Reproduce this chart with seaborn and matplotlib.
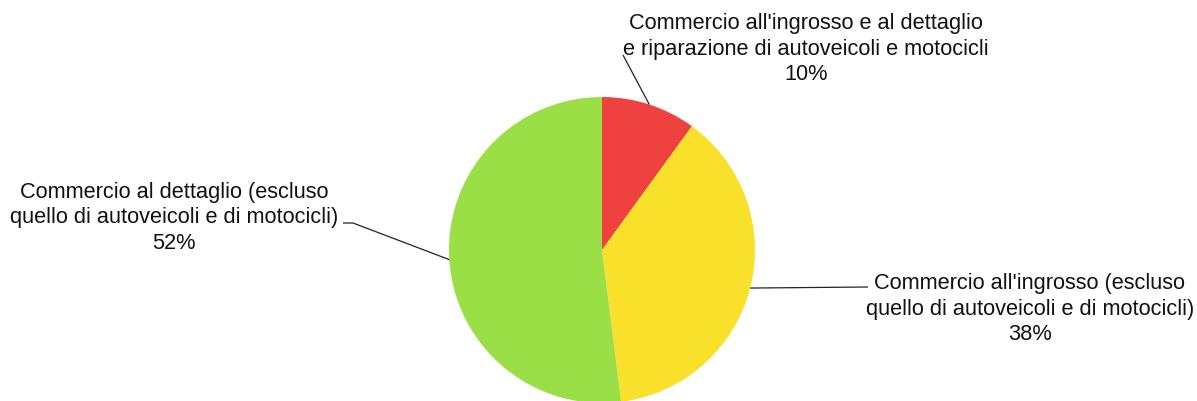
import numpy as np
import matplotlib
matplotlib.use("Agg")
import matplotlib.pyplot as plt
import seaborn as sns

categories = [
    "Commercio all'ingrosso e al dettaglio\ne riparazione di autoveicoli e motocicli",
    "Commercio all'ingrosso (escluso\nquello di autoveicoli e di motocicli)",
    "Commercio al dettaglio (escluso\nquello di autoveicoli e di motocicli)",
]
values = [10, 38, 52]
colors = ["#F04141", "#F8E02B", "#9BDF46"]

sns.set_theme(style="white")
plt.rcParams['font.family'] = ['Liberation Sans', 'DejaVu Sans']

W, H = 1197, 401
fig = plt.figure(figsize=(W / 100, H / 100), dpi=100)
ax = fig.add_axes([0, 0, 1, 1])

cx, cy, r = 602, H - 250, 153
wedges, _ = ax.pie(values, colors=colors, startangle=90, counterclock=False,
                   center=(cx, cy), radius=r, frame=True,
                   wedgeprops=dict(linewidth=0))
ax.set_xlim(0, W)
ax.set_ylim(0, H)
ax.set_aspect('equal')
ax.axis('off')

# label layout: (text x, text y, line end points after the edge point)
layout = [
    dict(tx=806, ty=H - 49, path=[(623, H - 55)]),
    dict(tx=1030, ty=H - 309, path=[(868, H - 287)]),
    dict(tx=174, ty=H - 218, path=[(353, H - 223), (343, H - 223)]),
]

for w, cat, v, lay in zip(wedges, categories, values, layout):
    mid = np.deg2rad((w.theta1 + w.theta2) / 2)
    ex, ey = cx + r * np.cos(mid), cy + r * np.sin(mid)
    xs = [ex] + [p[0] for p in lay['path']]
    ys = [ey] + [p[1] for p in lay['path']]
    ax.plot(xs, ys, color='#222222', lw=0.9, solid_capstyle='butt')
    ax.text(lay['tx'], lay['ty'], f"{cat}\n{v}%", ha='center', va='center',
            fontsize=15.7, color='#111111', linespacing=1.28)

fig.savefig("out.png", dpi=100)
